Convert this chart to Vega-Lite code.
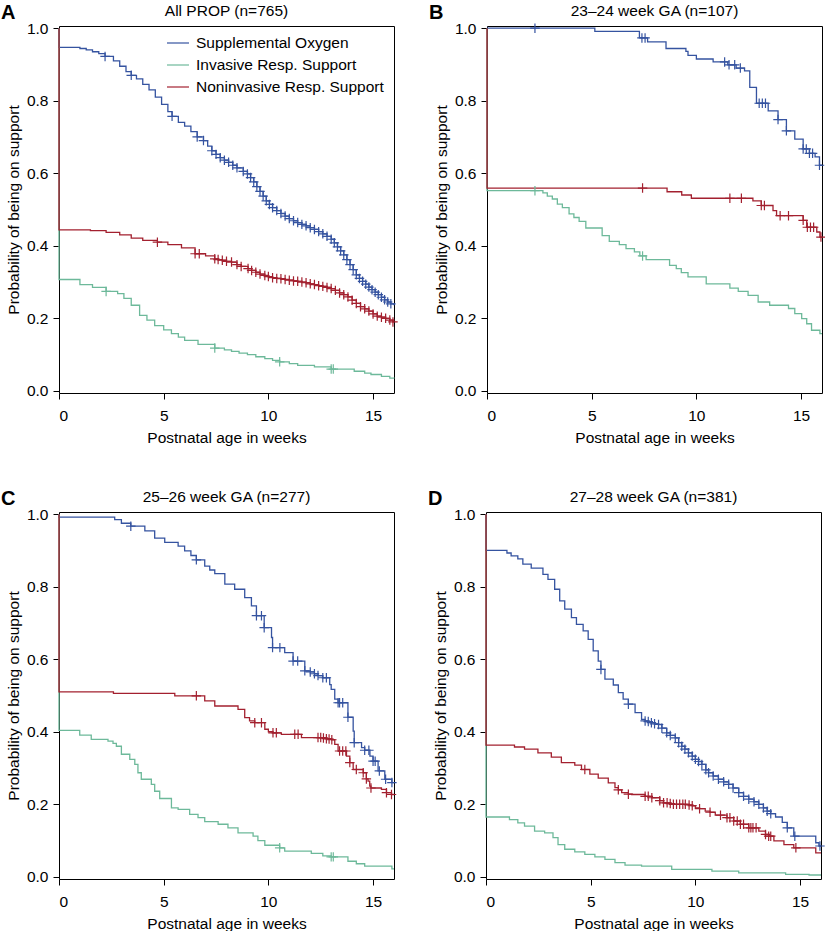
{
  "$schema": "https://vega.github.io/schema/vega-lite/v6.json",
  "padding": {"left": 0, "top": 3, "right": 2, "bottom": 2},
  "datasets": {
    "A": [
      {"type": "O", "week": 0, "prob": 1},
      {"type": "O", "week": 0, "prob": 0.947},
      {"type": "O", "week": 1.0, "prob": 0.944},
      {"type": "O", "week": 1.3, "prob": 0.94},
      {"type": "O", "week": 1.6, "prob": 0.935},
      {"type": "O", "week": 1.9, "prob": 0.93},
      {"type": "O", "week": 2.2, "prob": 0.922, "cens": 1},
      {"type": "O", "week": 2.6, "prob": 0.91},
      {"type": "O", "week": 2.9, "prob": 0.895},
      {"type": "O", "week": 3.2, "prob": 0.88},
      {"type": "O", "week": 3.45, "prob": 0.87, "cens": 1},
      {"type": "O", "week": 3.7, "prob": 0.86},
      {"type": "O", "week": 4.0, "prob": 0.845},
      {"type": "O", "week": 4.3, "prob": 0.83},
      {"type": "O", "week": 4.6, "prob": 0.81},
      {"type": "O", "week": 4.9, "prob": 0.79},
      {"type": "O", "week": 5.2, "prob": 0.77},
      {"type": "O", "week": 5.4, "prob": 0.757, "cens": 1},
      {"type": "O", "week": 5.7, "prob": 0.74},
      {"type": "O", "week": 6.0, "prob": 0.73},
      {"type": "O", "week": 6.3, "prob": 0.715},
      {"type": "O", "week": 6.6, "prob": 0.7, "cens": 1},
      {"type": "O", "week": 6.9, "prob": 0.69, "cens": 1},
      {"type": "O", "week": 7.1, "prob": 0.675},
      {"type": "O", "week": 7.3, "prob": 0.662, "cens": 1},
      {"type": "O", "week": 7.5, "prob": 0.652, "cens": 1},
      {"type": "O", "week": 7.7, "prob": 0.643, "cens": 1},
      {"type": "O", "week": 7.9, "prob": 0.636, "cens": 1},
      {"type": "O", "week": 8.1, "prob": 0.63, "cens": 1},
      {"type": "O", "week": 8.3, "prob": 0.622, "cens": 1},
      {"type": "O", "week": 8.5, "prob": 0.615, "cens": 1},
      {"type": "O", "week": 8.8, "prob": 0.605, "cens": 1},
      {"type": "O", "week": 9.0, "prob": 0.598, "cens": 1},
      {"type": "O", "week": 9.15, "prob": 0.588, "cens": 1},
      {"type": "O", "week": 9.3, "prob": 0.576, "cens": 1},
      {"type": "O", "week": 9.45, "prob": 0.563, "cens": 1},
      {"type": "O", "week": 9.6, "prob": 0.55, "cens": 1},
      {"type": "O", "week": 9.75, "prob": 0.537, "cens": 1},
      {"type": "O", "week": 9.9, "prob": 0.524, "cens": 1},
      {"type": "O", "week": 10.05, "prob": 0.514, "cens": 1},
      {"type": "O", "week": 10.2, "prob": 0.505, "cens": 1},
      {"type": "O", "week": 10.4, "prob": 0.497, "cens": 1},
      {"type": "O", "week": 10.6, "prob": 0.489, "cens": 1},
      {"type": "O", "week": 10.8, "prob": 0.482, "cens": 1},
      {"type": "O", "week": 11.0, "prob": 0.475, "cens": 1},
      {"type": "O", "week": 11.2, "prob": 0.469, "cens": 1},
      {"type": "O", "week": 11.4, "prob": 0.464, "cens": 1},
      {"type": "O", "week": 11.6, "prob": 0.459, "cens": 1},
      {"type": "O", "week": 11.8, "prob": 0.455, "cens": 1},
      {"type": "O", "week": 12.0, "prob": 0.45, "cens": 1},
      {"type": "O", "week": 12.2, "prob": 0.445, "cens": 1},
      {"type": "O", "week": 12.4, "prob": 0.439, "cens": 1},
      {"type": "O", "week": 12.6, "prob": 0.433, "cens": 1},
      {"type": "O", "week": 12.8, "prob": 0.426, "cens": 1},
      {"type": "O", "week": 13.0, "prob": 0.418, "cens": 1},
      {"type": "O", "week": 13.15, "prob": 0.408, "cens": 1},
      {"type": "O", "week": 13.3, "prob": 0.397, "cens": 1},
      {"type": "O", "week": 13.45, "prob": 0.386, "cens": 1},
      {"type": "O", "week": 13.6, "prob": 0.375, "cens": 1},
      {"type": "O", "week": 13.75, "prob": 0.362, "cens": 1},
      {"type": "O", "week": 13.9, "prob": 0.348, "cens": 1},
      {"type": "O", "week": 14.05, "prob": 0.334, "cens": 1},
      {"type": "O", "week": 14.2, "prob": 0.32, "cens": 1},
      {"type": "O", "week": 14.35, "prob": 0.31, "cens": 1},
      {"type": "O", "week": 14.5, "prob": 0.302, "cens": 1},
      {"type": "O", "week": 14.65, "prob": 0.294, "cens": 1},
      {"type": "O", "week": 14.8, "prob": 0.286, "cens": 1},
      {"type": "O", "week": 14.95, "prob": 0.279, "cens": 1},
      {"type": "O", "week": 15.1, "prob": 0.272, "cens": 1},
      {"type": "O", "week": 15.25, "prob": 0.265, "cens": 1},
      {"type": "O", "week": 15.4, "prob": 0.258, "cens": 1},
      {"type": "O", "week": 15.55, "prob": 0.251, "cens": 1},
      {"type": "O", "week": 15.7, "prob": 0.245, "cens": 1},
      {"type": "O", "week": 15.85, "prob": 0.24, "cens": 1},
      {"type": "O", "week": 16, "prob": 0.236},
      {"type": "I", "week": 0, "prob": 1},
      {"type": "I", "week": 0, "prob": 0.307},
      {"type": "I", "week": 1.0, "prob": 0.293},
      {"type": "I", "week": 1.6, "prob": 0.285},
      {"type": "I", "week": 2.25, "prob": 0.274, "cens": 1},
      {"type": "I", "week": 2.8, "prob": 0.268},
      {"type": "I", "week": 3.1, "prob": 0.255},
      {"type": "I", "week": 3.45, "prob": 0.236},
      {"type": "I", "week": 3.85, "prob": 0.208},
      {"type": "I", "week": 4.2, "prob": 0.195},
      {"type": "I", "week": 4.57, "prob": 0.18},
      {"type": "I", "week": 5.0, "prob": 0.168},
      {"type": "I", "week": 5.37, "prob": 0.158},
      {"type": "I", "week": 5.7, "prob": 0.148},
      {"type": "I", "week": 6.0, "prob": 0.139},
      {"type": "I", "week": 6.64, "prob": 0.128},
      {"type": "I", "week": 7.44, "prob": 0.118, "cens": 1},
      {"type": "I", "week": 7.9, "prob": 0.113},
      {"type": "I", "week": 8.24, "prob": 0.109},
      {"type": "I", "week": 8.6, "prob": 0.104},
      {"type": "I", "week": 9.0, "prob": 0.1},
      {"type": "I", "week": 9.4, "prob": 0.094},
      {"type": "I", "week": 9.83, "prob": 0.089},
      {"type": "I", "week": 10.2, "prob": 0.084},
      {"type": "I", "week": 10.54, "prob": 0.08, "cens": 1},
      {"type": "I", "week": 11.0, "prob": 0.075},
      {"type": "I", "week": 11.4, "prob": 0.07},
      {"type": "I", "week": 12.2, "prob": 0.066},
      {"type": "I", "week": 13.0, "prob": 0.06, "cens": 1},
      {"type": "I", "week": 13.1, "prob": 0.06, "cens": 1},
      {"type": "I", "week": 14.1, "prob": 0.054},
      {"type": "I", "week": 14.6, "prob": 0.049},
      {"type": "I", "week": 14.9, "prob": 0.045},
      {"type": "I", "week": 15.4, "prob": 0.04},
      {"type": "I", "week": 15.8, "prob": 0.035},
      {"type": "I", "week": 16, "prob": 0.034},
      {"type": "N", "week": 0, "prob": 1},
      {"type": "N", "week": 0, "prob": 0.444},
      {"type": "N", "week": 1.5, "prob": 0.442},
      {"type": "N", "week": 2.25, "prob": 0.437},
      {"type": "N", "week": 2.9, "prob": 0.43},
      {"type": "N", "week": 3.45, "prob": 0.421},
      {"type": "N", "week": 4.0, "prob": 0.415},
      {"type": "N", "week": 4.7, "prob": 0.41, "cens": 1},
      {"type": "N", "week": 5.2, "prob": 0.403},
      {"type": "N", "week": 5.85, "prob": 0.394},
      {"type": "N", "week": 6.5, "prob": 0.378, "cens": 1},
      {"type": "N", "week": 6.7, "prob": 0.378, "cens": 1},
      {"type": "N", "week": 7.0, "prob": 0.372},
      {"type": "N", "week": 7.44, "prob": 0.364, "cens": 1},
      {"type": "N", "week": 7.6, "prob": 0.362, "cens": 1},
      {"type": "N", "week": 7.8, "prob": 0.36, "cens": 1},
      {"type": "N", "week": 8.0, "prob": 0.357, "cens": 1},
      {"type": "N", "week": 8.24, "prob": 0.355, "cens": 1},
      {"type": "N", "week": 8.5, "prob": 0.348, "cens": 1},
      {"type": "N", "week": 8.7, "prob": 0.343, "cens": 1},
      {"type": "N", "week": 9.03, "prob": 0.337, "cens": 1},
      {"type": "N", "week": 9.2, "prob": 0.332, "cens": 1},
      {"type": "N", "week": 9.4, "prob": 0.327, "cens": 1},
      {"type": "N", "week": 9.6, "prob": 0.322, "cens": 1},
      {"type": "N", "week": 9.83, "prob": 0.318, "cens": 1},
      {"type": "N", "week": 10.0, "prob": 0.315, "cens": 1},
      {"type": "N", "week": 10.2, "prob": 0.312, "cens": 1},
      {"type": "N", "week": 10.4, "prob": 0.31, "cens": 1},
      {"type": "N", "week": 10.6, "prob": 0.309, "cens": 1},
      {"type": "N", "week": 10.8, "prob": 0.307, "cens": 1},
      {"type": "N", "week": 11.0, "prob": 0.305, "cens": 1},
      {"type": "N", "week": 11.2, "prob": 0.303, "cens": 1},
      {"type": "N", "week": 11.4, "prob": 0.302, "cens": 1},
      {"type": "N", "week": 11.6, "prob": 0.3, "cens": 1},
      {"type": "N", "week": 11.8, "prob": 0.298, "cens": 1},
      {"type": "N", "week": 12.0, "prob": 0.295, "cens": 1},
      {"type": "N", "week": 12.2, "prob": 0.293, "cens": 1},
      {"type": "N", "week": 12.4, "prob": 0.29, "cens": 1},
      {"type": "N", "week": 12.6, "prob": 0.288, "cens": 1},
      {"type": "N", "week": 12.8, "prob": 0.285, "cens": 1},
      {"type": "N", "week": 13.0, "prob": 0.282, "cens": 1},
      {"type": "N", "week": 13.2, "prob": 0.277, "cens": 1},
      {"type": "N", "week": 13.4, "prob": 0.27, "cens": 1},
      {"type": "N", "week": 13.6, "prob": 0.265, "cens": 1},
      {"type": "N", "week": 13.8, "prob": 0.259, "cens": 1},
      {"type": "N", "week": 14.0, "prob": 0.25, "cens": 1},
      {"type": "N", "week": 14.2, "prob": 0.241, "cens": 1},
      {"type": "N", "week": 14.4, "prob": 0.232, "cens": 1},
      {"type": "N", "week": 14.6, "prob": 0.226, "cens": 1},
      {"type": "N", "week": 14.8, "prob": 0.22, "cens": 1},
      {"type": "N", "week": 15.0, "prob": 0.212, "cens": 1},
      {"type": "N", "week": 15.2, "prob": 0.206, "cens": 1},
      {"type": "N", "week": 15.4, "prob": 0.203, "cens": 1},
      {"type": "N", "week": 15.6, "prob": 0.2, "cens": 1},
      {"type": "N", "week": 15.8, "prob": 0.195, "cens": 1},
      {"type": "N", "week": 15.95, "prob": 0.19, "cens": 1},
      {"type": "N", "week": 16, "prob": 0.19}
    ],
    "B": [
      {"type": "O", "week": 0, "prob": 1},
      {"type": "O", "week": 2.29, "prob": 1, "cens": 1},
      {"type": "O", "week": 5.15, "prob": 0.991},
      {"type": "O", "week": 7.28, "prob": 0.973},
      {"type": "O", "week": 7.4, "prob": 0.973, "cens": 1},
      {"type": "O", "week": 7.55, "prob": 0.973, "cens": 1},
      {"type": "O", "week": 7.67, "prob": 0.962},
      {"type": "O", "week": 8.55, "prob": 0.944},
      {"type": "O", "week": 9.5, "prob": 0.936},
      {"type": "O", "week": 9.6, "prob": 0.925},
      {"type": "O", "week": 10.0, "prob": 0.915},
      {"type": "O", "week": 10.8, "prob": 0.907},
      {"type": "O", "week": 11.35, "prob": 0.907, "cens": 1},
      {"type": "O", "week": 11.5, "prob": 0.899},
      {"type": "O", "week": 11.56, "prob": 0.899, "cens": 1},
      {"type": "O", "week": 11.83, "prob": 0.899, "cens": 1},
      {"type": "O", "week": 11.9, "prob": 0.89},
      {"type": "O", "week": 12.1, "prob": 0.89, "cens": 1},
      {"type": "O", "week": 12.3, "prob": 0.882},
      {"type": "O", "week": 12.55, "prob": 0.837},
      {"type": "O", "week": 12.87, "prob": 0.793},
      {"type": "O", "week": 13.0, "prob": 0.793, "cens": 1},
      {"type": "O", "week": 13.15, "prob": 0.793, "cens": 1},
      {"type": "O", "week": 13.3, "prob": 0.793, "cens": 1},
      {"type": "O", "week": 13.43, "prob": 0.772},
      {"type": "O", "week": 13.9, "prob": 0.748, "cens": 1},
      {"type": "O", "week": 14.3, "prob": 0.717, "cens": 1},
      {"type": "O", "week": 14.7, "prob": 0.694},
      {"type": "O", "week": 15.1, "prob": 0.667, "cens": 1},
      {"type": "O", "week": 15.25, "prob": 0.667, "cens": 1},
      {"type": "O", "week": 15.4, "prob": 0.655, "cens": 1},
      {"type": "O", "week": 15.55, "prob": 0.655, "cens": 1},
      {"type": "O", "week": 15.67, "prob": 0.645},
      {"type": "O", "week": 15.88, "prob": 0.622, "cens": 1},
      {"type": "O", "week": 16, "prob": 0.622},
      {"type": "I", "week": 0, "prob": 1},
      {"type": "I", "week": 0, "prob": 0.552},
      {"type": "I", "week": 2.29, "prob": 0.552, "cens": 1},
      {"type": "I", "week": 2.67, "prob": 0.546},
      {"type": "I", "week": 2.88, "prob": 0.537},
      {"type": "I", "week": 3.12, "prob": 0.529},
      {"type": "I", "week": 3.36, "prob": 0.515},
      {"type": "I", "week": 3.6, "prob": 0.505},
      {"type": "I", "week": 3.92, "prob": 0.488},
      {"type": "I", "week": 4.15, "prob": 0.478},
      {"type": "I", "week": 4.4, "prob": 0.467},
      {"type": "I", "week": 4.72, "prob": 0.449},
      {"type": "I", "week": 5.5, "prob": 0.428},
      {"type": "I", "week": 5.84, "prob": 0.412},
      {"type": "I", "week": 6.32, "prob": 0.403},
      {"type": "I", "week": 6.64, "prob": 0.392},
      {"type": "I", "week": 7.04, "prob": 0.383},
      {"type": "I", "week": 7.3, "prob": 0.372},
      {"type": "I", "week": 7.43, "prob": 0.372, "cens": 1},
      {"type": "I", "week": 7.6, "prob": 0.362},
      {"type": "I", "week": 8.72, "prob": 0.346},
      {"type": "I", "week": 9.04, "prob": 0.337},
      {"type": "I", "week": 9.28, "prob": 0.326},
      {"type": "I", "week": 9.6, "prob": 0.314},
      {"type": "I", "week": 10.47, "prob": 0.295},
      {"type": "I", "week": 11.6, "prob": 0.283},
      {"type": "I", "week": 12.0, "prob": 0.274},
      {"type": "I", "week": 12.47, "prob": 0.263},
      {"type": "I", "week": 12.95, "prob": 0.245},
      {"type": "I", "week": 13.5, "prob": 0.236},
      {"type": "I", "week": 14.4, "prob": 0.227},
      {"type": "I", "week": 14.7, "prob": 0.213},
      {"type": "I", "week": 15.03, "prob": 0.199},
      {"type": "I", "week": 15.27, "prob": 0.185},
      {"type": "I", "week": 15.5, "prob": 0.167},
      {"type": "I", "week": 15.9, "prob": 0.158},
      {"type": "I", "week": 16, "prob": 0.158},
      {"type": "N", "week": 0, "prob": 1},
      {"type": "N", "week": 0, "prob": 0.559},
      {"type": "N", "week": 7.43, "prob": 0.559, "cens": 1},
      {"type": "N", "week": 8.6, "prob": 0.549},
      {"type": "N", "week": 9.3, "prob": 0.54},
      {"type": "N", "week": 9.76, "prob": 0.531},
      {"type": "N", "week": 11.6, "prob": 0.531, "cens": 1},
      {"type": "N", "week": 12.15, "prob": 0.531, "cens": 1},
      {"type": "N", "week": 12.7, "prob": 0.524},
      {"type": "N", "week": 13.1, "prob": 0.511, "cens": 1},
      {"type": "N", "week": 13.25, "prob": 0.511, "cens": 1},
      {"type": "N", "week": 13.66, "prob": 0.497},
      {"type": "N", "week": 13.83, "prob": 0.483},
      {"type": "N", "week": 14.0, "prob": 0.483, "cens": 1},
      {"type": "N", "week": 14.4, "prob": 0.483, "cens": 1},
      {"type": "N", "week": 15.1, "prob": 0.47, "cens": 1},
      {"type": "N", "week": 15.27, "prob": 0.451},
      {"type": "N", "week": 15.3, "prob": 0.451, "cens": 1},
      {"type": "N", "week": 15.45, "prob": 0.451, "cens": 1},
      {"type": "N", "week": 15.6, "prob": 0.451, "cens": 1},
      {"type": "N", "week": 15.75, "prob": 0.438},
      {"type": "N", "week": 15.9, "prob": 0.424},
      {"type": "N", "week": 15.95, "prob": 0.424, "cens": 1},
      {"type": "N", "week": 16, "prob": 0.424}
    ],
    "C": [
      {"type": "O", "week": 0, "prob": 1},
      {"type": "O", "week": 0, "prob": 0.992},
      {"type": "O", "week": 2.34, "prob": 0.992},
      {"type": "O", "week": 2.66, "prob": 0.985},
      {"type": "O", "week": 2.98, "prob": 0.975},
      {"type": "O", "week": 3.43, "prob": 0.967, "cens": 1},
      {"type": "O", "week": 4.1, "prob": 0.954},
      {"type": "O", "week": 4.57, "prob": 0.934},
      {"type": "O", "week": 5.05, "prob": 0.922},
      {"type": "O", "week": 5.69, "prob": 0.912},
      {"type": "O", "week": 6.0, "prob": 0.899},
      {"type": "O", "week": 6.3, "prob": 0.886},
      {"type": "O", "week": 6.56, "prob": 0.874, "cens": 1},
      {"type": "O", "week": 6.96, "prob": 0.857},
      {"type": "O", "week": 7.2, "prob": 0.846},
      {"type": "O", "week": 7.44, "prob": 0.836},
      {"type": "O", "week": 7.92, "prob": 0.807},
      {"type": "O", "week": 8.39, "prob": 0.793},
      {"type": "O", "week": 8.87, "prob": 0.77},
      {"type": "O", "week": 9.19, "prob": 0.747},
      {"type": "O", "week": 9.43, "prob": 0.72, "cens": 1},
      {"type": "O", "week": 9.67, "prob": 0.72, "cens": 1},
      {"type": "O", "week": 9.8, "prob": 0.687, "cens": 1},
      {"type": "O", "week": 10.15, "prob": 0.66},
      {"type": "O", "week": 10.2, "prob": 0.632, "cens": 1},
      {"type": "O", "week": 10.55, "prob": 0.632, "cens": 1},
      {"type": "O", "week": 10.78, "prob": 0.618},
      {"type": "O", "week": 11.18, "prob": 0.595, "cens": 1},
      {"type": "O", "week": 11.4, "prob": 0.595, "cens": 1},
      {"type": "O", "week": 11.74, "prob": 0.568, "cens": 1},
      {"type": "O", "week": 12.0, "prob": 0.565, "cens": 1},
      {"type": "O", "week": 12.2, "prob": 0.56, "cens": 1},
      {"type": "O", "week": 12.37, "prob": 0.555, "cens": 1},
      {"type": "O", "week": 12.6, "prob": 0.549, "cens": 1},
      {"type": "O", "week": 12.77, "prob": 0.549, "cens": 1},
      {"type": "O", "week": 12.93, "prob": 0.53},
      {"type": "O", "week": 13.0, "prob": 0.517},
      {"type": "O", "week": 13.17, "prob": 0.49},
      {"type": "O", "week": 13.33, "prob": 0.48, "cens": 1},
      {"type": "O", "week": 13.4, "prob": 0.48, "cens": 1},
      {"type": "O", "week": 13.55, "prob": 0.48, "cens": 1},
      {"type": "O", "week": 13.8, "prob": 0.44, "cens": 1},
      {"type": "O", "week": 14.05, "prob": 0.402},
      {"type": "O", "week": 14.1, "prob": 0.37, "cens": 1},
      {"type": "O", "week": 14.45, "prob": 0.356},
      {"type": "O", "week": 14.6, "prob": 0.349, "cens": 1},
      {"type": "O", "week": 14.8, "prob": 0.349, "cens": 1},
      {"type": "O", "week": 14.85, "prob": 0.333},
      {"type": "O", "week": 15.0, "prob": 0.319, "cens": 1},
      {"type": "O", "week": 15.1, "prob": 0.319, "cens": 1},
      {"type": "O", "week": 15.24, "prob": 0.292},
      {"type": "O", "week": 15.3, "prob": 0.292, "cens": 1},
      {"type": "O", "week": 15.56, "prob": 0.269},
      {"type": "O", "week": 15.6, "prob": 0.269, "cens": 1},
      {"type": "O", "week": 15.9, "prob": 0.26, "cens": 1},
      {"type": "O", "week": 16, "prob": 0.26},
      {"type": "I", "week": 0, "prob": 1},
      {"type": "I", "week": 0, "prob": 0.404},
      {"type": "I", "week": 0.99, "prob": 0.391},
      {"type": "I", "week": 1.54, "prob": 0.379},
      {"type": "I", "week": 2.34, "prob": 0.374},
      {"type": "I", "week": 2.58, "prob": 0.368},
      {"type": "I", "week": 2.74, "prob": 0.36},
      {"type": "I", "week": 2.98, "prob": 0.338},
      {"type": "I", "week": 3.38, "prob": 0.324},
      {"type": "I", "week": 3.62, "prob": 0.31},
      {"type": "I", "week": 3.77, "prob": 0.287},
      {"type": "I", "week": 3.93, "prob": 0.269},
      {"type": "I", "week": 4.41, "prob": 0.255},
      {"type": "I", "week": 4.57, "prob": 0.236},
      {"type": "I", "week": 4.81, "prob": 0.216},
      {"type": "I", "week": 5.37, "prob": 0.19},
      {"type": "I", "week": 5.69, "prob": 0.186},
      {"type": "I", "week": 6.24, "prob": 0.172},
      {"type": "I", "week": 6.64, "prob": 0.163},
      {"type": "I", "week": 6.96, "prob": 0.152},
      {"type": "I", "week": 7.6, "prob": 0.145},
      {"type": "I", "week": 8.07, "prob": 0.135},
      {"type": "I", "week": 8.55, "prob": 0.121},
      {"type": "I", "week": 9.27, "prob": 0.112},
      {"type": "I", "week": 9.5, "prob": 0.1},
      {"type": "I", "week": 9.83, "prob": 0.087},
      {"type": "I", "week": 10.54, "prob": 0.08, "cens": 1},
      {"type": "I", "week": 10.78, "prob": 0.071},
      {"type": "I", "week": 12.05, "prob": 0.0645},
      {"type": "I", "week": 12.6, "prob": 0.058},
      {"type": "I", "week": 13.0, "prob": 0.055, "cens": 1},
      {"type": "I", "week": 13.1, "prob": 0.055, "cens": 1},
      {"type": "I", "week": 13.8, "prob": 0.043},
      {"type": "I", "week": 14.2, "prob": 0.036},
      {"type": "I", "week": 14.6, "prob": 0.0295},
      {"type": "I", "week": 15.9, "prob": 0.022},
      {"type": "I", "week": 16, "prob": 0.022},
      {"type": "N", "week": 0, "prob": 1},
      {"type": "N", "week": 0, "prob": 0.51},
      {"type": "N", "week": 2.6, "prob": 0.506},
      {"type": "N", "week": 5.53, "prob": 0.499},
      {"type": "N", "week": 6.56, "prob": 0.499, "cens": 1},
      {"type": "N", "week": 6.96, "prob": 0.485},
      {"type": "N", "week": 7.44, "prob": 0.471},
      {"type": "N", "week": 8.55, "prob": 0.462},
      {"type": "N", "week": 8.87, "prob": 0.439},
      {"type": "N", "week": 9.1, "prob": 0.43},
      {"type": "N", "week": 9.35, "prob": 0.425, "cens": 1},
      {"type": "N", "week": 9.67, "prob": 0.425, "cens": 1},
      {"type": "N", "week": 9.83, "prob": 0.407},
      {"type": "N", "week": 10.0, "prob": 0.4},
      {"type": "N", "week": 10.22, "prob": 0.397, "cens": 1},
      {"type": "N", "week": 10.38, "prob": 0.397, "cens": 1},
      {"type": "N", "week": 10.62, "prob": 0.393},
      {"type": "N", "week": 11.26, "prob": 0.393, "cens": 1},
      {"type": "N", "week": 11.42, "prob": 0.393, "cens": 1},
      {"type": "N", "week": 11.58, "prob": 0.384},
      {"type": "N", "week": 12.37, "prob": 0.384, "cens": 1},
      {"type": "N", "week": 12.5, "prob": 0.384, "cens": 1},
      {"type": "N", "week": 12.63, "prob": 0.383, "cens": 1},
      {"type": "N", "week": 12.77, "prob": 0.381, "cens": 1},
      {"type": "N", "week": 12.9, "prob": 0.38, "cens": 1},
      {"type": "N", "week": 13.03, "prob": 0.378, "cens": 1},
      {"type": "N", "week": 13.17, "prob": 0.365},
      {"type": "N", "week": 13.33, "prob": 0.347},
      {"type": "N", "week": 13.4, "prob": 0.347, "cens": 1},
      {"type": "N", "week": 13.55, "prob": 0.347, "cens": 1},
      {"type": "N", "week": 13.7, "prob": 0.347, "cens": 1},
      {"type": "N", "week": 13.73, "prob": 0.333},
      {"type": "N", "week": 13.89, "prob": 0.315, "cens": 1},
      {"type": "N", "week": 14.05, "prob": 0.296},
      {"type": "N", "week": 14.2, "prob": 0.296, "cens": 1},
      {"type": "N", "week": 14.53, "prob": 0.287, "cens": 1},
      {"type": "N", "week": 14.68, "prob": 0.27, "cens": 1},
      {"type": "N", "week": 14.76, "prob": 0.264},
      {"type": "N", "week": 14.84, "prob": 0.25},
      {"type": "N", "week": 14.9, "prob": 0.245, "cens": 1},
      {"type": "N", "week": 15.4, "prob": 0.241},
      {"type": "N", "week": 15.64, "prob": 0.232, "cens": 1},
      {"type": "N", "week": 15.88, "prob": 0.227, "cens": 1},
      {"type": "N", "week": 16, "prob": 0.227}
    ],
    "D": [
      {"type": "O", "week": 0, "prob": 1},
      {"type": "O", "week": 0, "prob": 0.9},
      {"type": "O", "week": 1.0, "prob": 0.893},
      {"type": "O", "week": 1.2, "prob": 0.885},
      {"type": "O", "week": 1.52, "prob": 0.877},
      {"type": "O", "week": 1.76, "prob": 0.862},
      {"type": "O", "week": 2.16, "prob": 0.851},
      {"type": "O", "week": 2.72, "prob": 0.834},
      {"type": "O", "week": 2.96, "prob": 0.82},
      {"type": "O", "week": 3.28, "prob": 0.793},
      {"type": "O", "week": 3.52, "prob": 0.761},
      {"type": "O", "week": 3.76, "prob": 0.738},
      {"type": "O", "week": 4.08, "prob": 0.715},
      {"type": "O", "week": 4.32, "prob": 0.696},
      {"type": "O", "week": 4.64, "prob": 0.678},
      {"type": "O", "week": 4.88, "prob": 0.655},
      {"type": "O", "week": 5.12, "prob": 0.623},
      {"type": "O", "week": 5.36, "prob": 0.595},
      {"type": "O", "week": 5.49, "prob": 0.572, "cens": 1},
      {"type": "O", "week": 5.68, "prob": 0.545},
      {"type": "O", "week": 6.08, "prob": 0.529},
      {"type": "O", "week": 6.32, "prob": 0.508},
      {"type": "O", "week": 6.55, "prob": 0.49},
      {"type": "O", "week": 6.8, "prob": 0.476, "cens": 1},
      {"type": "O", "week": 7.12, "prob": 0.453},
      {"type": "O", "week": 7.43, "prob": 0.434},
      {"type": "O", "week": 7.6, "prob": 0.43, "cens": 1},
      {"type": "O", "week": 7.75, "prob": 0.428, "cens": 1},
      {"type": "O", "week": 7.9, "prob": 0.425, "cens": 1},
      {"type": "O", "week": 8.05, "prob": 0.422, "cens": 1},
      {"type": "O", "week": 8.24, "prob": 0.42, "cens": 1},
      {"type": "O", "week": 8.4, "prob": 0.41, "cens": 1},
      {"type": "O", "week": 8.63, "prob": 0.397, "cens": 1},
      {"type": "O", "week": 8.8, "prob": 0.39, "cens": 1},
      {"type": "O", "week": 9.04, "prob": 0.383, "cens": 1},
      {"type": "O", "week": 9.2, "prob": 0.37, "cens": 1},
      {"type": "O", "week": 9.35, "prob": 0.36, "cens": 1},
      {"type": "O", "week": 9.5, "prob": 0.352, "cens": 1},
      {"type": "O", "week": 9.67, "prob": 0.342, "cens": 1},
      {"type": "O", "week": 9.85, "prob": 0.333, "cens": 1},
      {"type": "O", "week": 10.0, "prob": 0.324, "cens": 1},
      {"type": "O", "week": 10.15, "prob": 0.318, "cens": 1},
      {"type": "O", "week": 10.31, "prob": 0.31, "cens": 1},
      {"type": "O", "week": 10.5, "prob": 0.295, "cens": 1},
      {"type": "O", "week": 10.63, "prob": 0.287, "cens": 1},
      {"type": "O", "week": 10.85, "prob": 0.278, "cens": 1},
      {"type": "O", "week": 11.1, "prob": 0.269, "cens": 1},
      {"type": "O", "week": 11.35, "prob": 0.262, "cens": 1},
      {"type": "O", "week": 11.59, "prob": 0.255, "cens": 1},
      {"type": "O", "week": 11.8, "prob": 0.245, "cens": 1},
      {"type": "O", "week": 12.07, "prob": 0.232, "cens": 1},
      {"type": "O", "week": 12.3, "prob": 0.222, "cens": 1},
      {"type": "O", "week": 12.55, "prob": 0.214, "cens": 1},
      {"type": "O", "week": 12.8, "prob": 0.207, "cens": 1},
      {"type": "O", "week": 13.03, "prob": 0.2, "cens": 1},
      {"type": "O", "week": 13.25, "prob": 0.19, "cens": 1},
      {"type": "O", "week": 13.43, "prob": 0.181, "cens": 1},
      {"type": "O", "week": 13.6, "prob": 0.174, "cens": 1},
      {"type": "O", "week": 13.83, "prob": 0.165},
      {"type": "O", "week": 14.15, "prob": 0.15},
      {"type": "O", "week": 14.39, "prob": 0.135, "cens": 1},
      {"type": "O", "week": 14.7, "prob": 0.112},
      {"type": "O", "week": 14.75, "prob": 0.112, "cens": 1},
      {"type": "O", "week": 15.75, "prob": 0.094},
      {"type": "O", "week": 15.9, "prob": 0.085},
      {"type": "O", "week": 15.95, "prob": 0.085, "cens": 1},
      {"type": "O", "week": 16, "prob": 0.085},
      {"type": "I", "week": 0, "prob": 1},
      {"type": "I", "week": 0, "prob": 0.165},
      {"type": "I", "week": 1.12, "prob": 0.158},
      {"type": "I", "week": 1.52, "prob": 0.149},
      {"type": "I", "week": 1.84, "prob": 0.14},
      {"type": "I", "week": 2.32, "prob": 0.126},
      {"type": "I", "week": 2.8, "prob": 0.121},
      {"type": "I", "week": 3.2, "prob": 0.108},
      {"type": "I", "week": 3.44, "prob": 0.089},
      {"type": "I", "week": 3.76, "prob": 0.076},
      {"type": "I", "week": 4.24, "prob": 0.069},
      {"type": "I", "week": 4.72, "prob": 0.062},
      {"type": "I", "week": 5.2, "prob": 0.055},
      {"type": "I", "week": 5.68, "prob": 0.048},
      {"type": "I", "week": 6.16, "prob": 0.039},
      {"type": "I", "week": 6.64, "prob": 0.032},
      {"type": "I", "week": 7.43, "prob": 0.0295},
      {"type": "I", "week": 8.87, "prob": 0.0204},
      {"type": "I", "week": 10.79, "prob": 0.0157},
      {"type": "I", "week": 12.07, "prob": 0.011},
      {"type": "I", "week": 14.31, "prob": 0.0066},
      {"type": "I", "week": 15.43, "prob": 0.005},
      {"type": "I", "week": 16, "prob": 0.005},
      {"type": "N", "week": 0, "prob": 1},
      {"type": "N", "week": 0, "prob": 0.363},
      {"type": "N", "week": 1.36, "prob": 0.358},
      {"type": "N", "week": 1.84, "prob": 0.352},
      {"type": "N", "week": 2.48, "prob": 0.342},
      {"type": "N", "week": 3.12, "prob": 0.33},
      {"type": "N", "week": 3.6, "prob": 0.315},
      {"type": "N", "week": 4.24, "prob": 0.308},
      {"type": "N", "week": 4.56, "prob": 0.296},
      {"type": "N", "week": 4.72, "prob": 0.296, "cens": 1},
      {"type": "N", "week": 4.96, "prob": 0.283},
      {"type": "N", "week": 5.36, "prob": 0.272},
      {"type": "N", "week": 5.84, "prob": 0.259},
      {"type": "N", "week": 6.16, "prob": 0.246},
      {"type": "N", "week": 6.32, "prob": 0.24, "cens": 1},
      {"type": "N", "week": 6.48, "prob": 0.232},
      {"type": "N", "week": 6.8, "prob": 0.228, "cens": 1},
      {"type": "N", "week": 6.96, "prob": 0.227},
      {"type": "N", "week": 7.6, "prob": 0.222, "cens": 1},
      {"type": "N", "week": 7.75, "prob": 0.222, "cens": 1},
      {"type": "N", "week": 7.92, "prob": 0.218, "cens": 1},
      {"type": "N", "week": 8.3, "prob": 0.21, "cens": 1},
      {"type": "N", "week": 8.48, "prob": 0.204, "cens": 1},
      {"type": "N", "week": 8.65, "prob": 0.204, "cens": 1},
      {"type": "N", "week": 8.8, "prob": 0.202, "cens": 1},
      {"type": "N", "week": 8.95, "prob": 0.2, "cens": 1},
      {"type": "N", "week": 9.1, "prob": 0.2, "cens": 1},
      {"type": "N", "week": 9.25, "prob": 0.2, "cens": 1},
      {"type": "N", "week": 9.4, "prob": 0.2, "cens": 1},
      {"type": "N", "week": 9.52, "prob": 0.2, "cens": 1},
      {"type": "N", "week": 9.7, "prob": 0.198, "cens": 1},
      {"type": "N", "week": 9.85, "prob": 0.196, "cens": 1},
      {"type": "N", "week": 10.0, "prob": 0.19},
      {"type": "N", "week": 10.2, "prob": 0.188, "cens": 1},
      {"type": "N", "week": 10.47, "prob": 0.181},
      {"type": "N", "week": 10.7, "prob": 0.178, "cens": 1},
      {"type": "N", "week": 10.95, "prob": 0.17},
      {"type": "N", "week": 11.2, "prob": 0.17, "cens": 1},
      {"type": "N", "week": 11.51, "prob": 0.163, "cens": 1},
      {"type": "N", "week": 11.65, "prob": 0.163, "cens": 1},
      {"type": "N", "week": 11.83, "prob": 0.154, "cens": 1},
      {"type": "N", "week": 12.0, "prob": 0.154, "cens": 1},
      {"type": "N", "week": 12.15, "prob": 0.145, "cens": 1},
      {"type": "N", "week": 12.3, "prob": 0.145, "cens": 1},
      {"type": "N", "week": 12.55, "prob": 0.135, "cens": 1},
      {"type": "N", "week": 12.65, "prob": 0.135, "cens": 1},
      {"type": "N", "week": 12.75, "prob": 0.135, "cens": 1},
      {"type": "N", "week": 12.9, "prob": 0.135, "cens": 1},
      {"type": "N", "week": 13.03, "prob": 0.126},
      {"type": "N", "week": 13.35, "prob": 0.117, "cens": 1},
      {"type": "N", "week": 13.5, "prob": 0.112, "cens": 1},
      {"type": "N", "week": 13.6, "prob": 0.112, "cens": 1},
      {"type": "N", "week": 13.75, "prob": 0.099},
      {"type": "N", "week": 14.23, "prob": 0.089},
      {"type": "N", "week": 14.7, "prob": 0.08},
      {"type": "N", "week": 14.8, "prob": 0.08, "cens": 1},
      {"type": "N", "week": 15.75, "prob": 0.066},
      {"type": "N", "week": 16, "prob": 0.066}
    ]
  },
  "vconcat": [
    {
      "hconcat": [
        {
          "title": {"text": "A", "anchor": "start", "frame": "bounds", "fontSize": 20, "fontWeight": "bold", "offset": -20, "dx": -5},
          "resolve": {"scale": {"color": "independent"}, "legend": {"color": "independent"}},
          "vconcat": [
            {
              "title": "All PROP (n=765)",
              "data": {"name": "A"},
              "width": 335,
              "height": 367,
              "encoding": {
                "x": {"field": "week", "type": "quantitative", "scale": {"domain": [0, 16], "nice": false}, "axis": {"values": [0, 5, 10, 15], "title": "Postnatal age in weeks"}},
                "y": {"field": "prob", "type": "quantitative", "scale": {"domain": [-0.006, 1.006], "nice": false}, "axis": {"values": [0, 0.2, 0.4, 0.6, 0.8, 1], "format": ".1f", "title": "Probability of being on support"}},
                "color": {
                  "field": "type", "type": "nominal",
                  "scale": {"domain": ["O", "I", "N"], "range": ["#3553A0", "#6DB99A", "#A3202F"]},
                  "legend": {"title": null, "orient": "none", "legendX": 107, "legendY": 5, "padding": 0, "symbolType": "stroke", "symbolSize": 484, "symbolStrokeWidth": 1.2, "labelFontSize": 15.5, "labelLimit": 0, "labelOffset": 6, "rowPadding": 1, "labelExpr": "datum.value == 'O' ? 'Supplemental Oxygen' : datum.value == 'I' ? 'Invasive Resp. Support' : 'Noninvasive Resp. Support'"}
                }
              },
              "layer": [
                {"mark": {"type": "line", "interpolate": "step-after", "strokeWidth": 1.3}, "encoding": {"order": {"field": "prob", "sort": "descending"}}},
                {"transform": [{"filter": "datum.cens == 1"}], "mark": {"type": "point", "shape": "M-1,0H1M0,-1V1", "filled": false, "size": 90, "strokeWidth": 1.2, "opacity": 1}}
              ]
            }
          ]
        },
        {
          "title": {"text": "B", "anchor": "start", "frame": "bounds", "fontSize": 20, "fontWeight": "bold", "offset": -20, "dx": -5},
          "resolve": {"scale": {"color": "independent"}, "legend": {"color": "independent"}},
          "vconcat": [
            {
              "title": "23–24 week GA (n=107)",
              "data": {"name": "B"},
              "width": 335,
              "height": 367,
              "encoding": {
                "x": {"field": "week", "type": "quantitative", "scale": {"domain": [0, 16], "nice": false}, "axis": {"values": [0, 5, 10, 15], "title": "Postnatal age in weeks"}},
                "y": {"field": "prob", "type": "quantitative", "scale": {"domain": [-0.006, 1.006], "nice": false}, "axis": {"values": [0, 0.2, 0.4, 0.6, 0.8, 1], "format": ".1f", "title": "Probability of being on support"}},
                "color": {"field": "type", "type": "nominal", "scale": {"domain": ["O", "I", "N"], "range": ["#3553A0", "#6DB99A", "#A3202F"]}, "legend": null}
              },
              "layer": [
                {"mark": {"type": "line", "interpolate": "step-after", "strokeWidth": 1.3}, "encoding": {"order": {"field": "prob", "sort": "descending"}}},
                {"transform": [{"filter": "datum.cens == 1"}], "mark": {"type": "point", "shape": "M-1,0H1M0,-1V1", "filled": false, "size": 90, "strokeWidth": 1.2, "opacity": 1}}
              ]
            }
          ]
        }
      ],
      "spacing": 27,
      "resolve": {"scale": {"color": "independent"}, "legend": {"color": "independent"}}
    },
    {
      "hconcat": [
        {
          "title": {"text": "C", "anchor": "start", "frame": "bounds", "fontSize": 20, "fontWeight": "bold", "offset": -20, "dx": -5},
          "resolve": {"scale": {"color": "independent"}, "legend": {"color": "independent"}},
          "vconcat": [
            {
              "title": "25–26 week GA (n=277)",
              "data": {"name": "C"},
              "width": 335,
              "height": 367,
              "encoding": {
                "x": {"field": "week", "type": "quantitative", "scale": {"domain": [0, 16], "nice": false}, "axis": {"values": [0, 5, 10, 15], "title": "Postnatal age in weeks"}},
                "y": {"field": "prob", "type": "quantitative", "scale": {"domain": [-0.006, 1.006], "nice": false}, "axis": {"values": [0, 0.2, 0.4, 0.6, 0.8, 1], "format": ".1f", "title": "Probability of being on support"}},
                "color": {"field": "type", "type": "nominal", "scale": {"domain": ["O", "I", "N"], "range": ["#3553A0", "#6DB99A", "#A3202F"]}, "legend": null}
              },
              "layer": [
                {"mark": {"type": "line", "interpolate": "step-after", "strokeWidth": 1.3}, "encoding": {"order": {"field": "prob", "sort": "descending"}}},
                {"transform": [{"filter": "datum.cens == 1"}], "mark": {"type": "point", "shape": "M-1,0H1M0,-1V1", "filled": false, "size": 90, "strokeWidth": 1.2, "opacity": 1}}
              ]
            }
          ]
        },
        {
          "title": {"text": "D", "anchor": "start", "frame": "bounds", "fontSize": 20, "fontWeight": "bold", "offset": -20, "dx": -5},
          "resolve": {"scale": {"color": "independent"}, "legend": {"color": "independent"}},
          "vconcat": [
            {
              "title": "27–28 week GA (n=381)",
              "data": {"name": "D"},
              "width": 335,
              "height": 367,
              "encoding": {
                "x": {"field": "week", "type": "quantitative", "scale": {"domain": [0, 16], "nice": false}, "axis": {"values": [0, 5, 10, 15], "title": "Postnatal age in weeks"}},
                "y": {"field": "prob", "type": "quantitative", "scale": {"domain": [-0.006, 1.006], "nice": false}, "axis": {"values": [0, 0.2, 0.4, 0.6, 0.8, 1], "format": ".1f", "title": "Probability of being on support"}},
                "color": {"field": "type", "type": "nominal", "scale": {"domain": ["O", "I", "N"], "range": ["#3553A0", "#6DB99A", "#A3202F"]}, "legend": null}
              },
              "layer": [
                {"mark": {"type": "line", "interpolate": "step-after", "strokeWidth": 1.3}, "encoding": {"order": {"field": "prob", "sort": "descending"}}},
                {"transform": [{"filter": "datum.cens == 1"}], "mark": {"type": "point", "shape": "M-1,0H1M0,-1V1", "filled": false, "size": 90, "strokeWidth": 1.2, "opacity": 1}}
              ]
            }
          ]
        }
      ],
      "spacing": 27,
      "resolve": {"scale": {"color": "independent"}, "legend": {"color": "independent"}}
    }
  ],
  "spacing": 42,
  "resolve": {"scale": {"color": "independent"}, "legend": {"color": "independent"}},
  "config": {
    "font": "Liberation Sans",
    "view": {"stroke": "#000", "strokeWidth": 1},
    "axis": {"domain": false, "grid": false, "ticks": true, "tickColor": "#000", "tickSize": 6, "labelFontSize": 15.5, "labelColor": "#000", "labelPadding": 5, "titleFontSize": 15.5, "titleFontWeight": "normal", "titleColor": "#000", "titlePadding": 5},
    "axisX": {"labelPadding": 9, "titlePadding": 7},
    "title": {"fontSize": 15.5, "fontWeight": "normal", "color": "#000", "offset": 2},
    "legend": {"labelColor": "#000"}
  }
}
